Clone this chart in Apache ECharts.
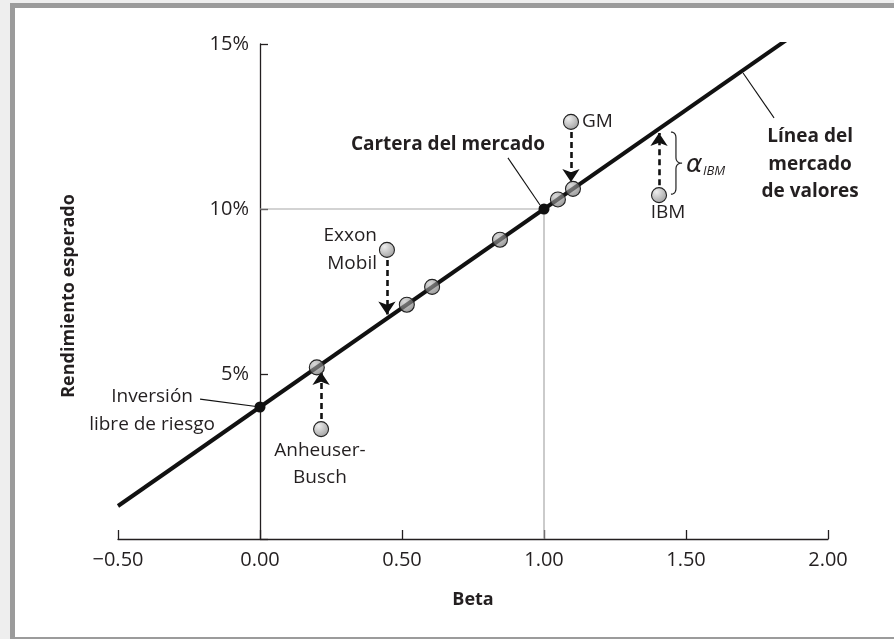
<!DOCTYPE html>
<html><head><meta charset="utf-8">
<script src="https://cdn.jsdelivr.net/npm/echarts@6/dist/echarts.min.js"></script>
<style>
html,body{margin:0;padding:0;background:#eeeeee;width:894px;height:639px;overflow:hidden;}
#frame{position:absolute;left:10px;top:3px;width:884px;height:636px;box-sizing:border-box;background:#fff;border-left:5px solid #9b9b9b;border-top:5px solid #9b9b9b;border-bottom:2px solid #9b9b9b;}
#chart{position:absolute;left:0;top:0;width:894px;height:639px;}
</style></head>
<body><div id="frame"></div><div id="chart"></div>
<script>
// ---- data ----
const xTickValues = [-0.5, 0, 0.5, 1.0, 1.5, 2.0];
const xTickLabels = ['\u22120.50', '0.00', '0.50', '1.00', '1.50', '2.00'];
const yTickValues = [5, 10, 15];
const yTickLabels = ['5%', '10%', '15%'];
const smlBeta = [-0.5, 1.88];
const smlReturn = [1.0, 15.28];
const onLineBeta = [0.2, 0.517, 0.606, 0.845, 1.049, 1.102];
const onLineReturn = [5.2, 7.1, 7.64, 9.07, 10.29, 10.61];
const stockNames = ['Anheuser-Busch', 'Exxon Mobil', 'GM', 'IBM'];
const stockBeta = [0.215, 0.447, 1.095, 1.405];
const stockReturn = [3.33, 8.76, 12.64, 10.42];
const stockSmlReturn = [5.06, 6.80, 10.82, 12.30];
const keyNames = ['Inversión libre de riesgo', 'Cartera del mercado'];
const keyBeta = [0, 1];
const keyReturn = [4, 10];
const refBeta = [0, 1, 1];
const refReturn = [10, 10, 0];

// ---- layout of annotations (data coordinates) ----
const FONT = '"Open Sans", "Noto Sans", sans-serif';
const annotations = [
  { t: 'Cartera del mercado', at: [1.004, 11.94], align: 'right', bold: true },
  { t: 'Exxon', at: [0.412, 9.18], align: 'right' },
  { t: 'Mobil', at: [0.412, 8.36], align: 'right' },
  { t: 'GM', at: [1.134, 12.64], align: 'left' },
  { t: 'IBM', at: [1.437, 9.88], align: 'center' },
  { t: 'Línea del', at: [1.937, 12.18], align: 'center', bold: true },
  { t: 'mercado', at: [1.937, 11.36], align: 'center', bold: true },
  { t: 'de valores', at: [1.937, 10.52], align: 'center', bold: true },
  { t: 'Inversión', at: [-0.38, 4.33], align: 'center' },
  { t: 'libre de riesgo', at: [-0.38, 3.48], align: 'center' },
  { t: 'Anheuser-', at: [0.211, 2.67], align: 'center' },
  { t: 'Busch', at: [0.211, 1.85], align: 'center' }
];
const leaders = [
  [[0.873, 11.55], [0.986, 10.12]],
  [[1.701, 14.12], [1.810, 12.76]],
  [[-0.211, 4.24], [0, 4]]
];

const GRID = { left: 118, right: 66, top: 44, bottom: 100 };
const W = 894, H = 639;
const X_MIN = -0.5, X_MAX = 2.0;
// y axis crosses the x axis at beta = 0
const yAxisOffset = -((0 - X_MIN) / (X_MAX - X_MIN)) * (W - GRID.left - GRID.right);

const chart = echarts.init(document.getElementById('chart'), null, { renderer: 'canvas' });
const ink = '#231f20';

function zip(a, b) { return a.map((v, i) => [v, b[i]]); }

const onGrad = new echarts.graphic.RadialGradient(0.35, 0.3, 0.8, [
  { offset: 0, color: 'rgba(190,190,190,0.6)' }, { offset: 1, color: 'rgba(100,100,100,0.7)' }]);
const offGrad = new echarts.graphic.RadialGradient(0.35, 0.3, 0.8, [
  { offset: 0, color: '#eeeeee' }, { offset: 1, color: '#9a9a9a' }]);

const arrows = stockBeta.map((b, i) => ({ coords: [[b, stockReturn[i]], [b, stockSmlReturn[i]]] }));

chart.setOption({
  animation: false,
  backgroundColor: 'transparent',
  grid: Object.assign({ containLabel: false }, GRID),
  xAxis: {
    type: 'value', min: X_MIN, max: X_MAX, interval: 0.5,
    name: 'Beta', nameLocation: 'middle', nameGap: 52,
    nameTextStyle: { fontFamily: FONT, fontWeight: 'bold', fontSize: 18, color: ink },
    axisLine: { show: true, onZero: false, lineStyle: { color: ink, width: 1.3 } },
    axisTick: { show: true, inside: true, length: 9, lineStyle: { color: ink, width: 1.3 } },
    axisLabel: {
      margin: 11, fontFamily: FONT, fontSize: 20, color: ink,
      formatter: v => { const i = xTickValues.findIndex(t => Math.abs(t - v) < 1e-9); return i >= 0 ? xTickLabels[i] : ''; }
    },
    splitLine: { show: false }
  },
  yAxis: {
    type: 'value', min: 0, max: 15, interval: 5, position: 'left', offset: yAxisOffset,
    axisLine: { show: true, onZero: false, lineStyle: { color: ink, width: 1.3 } },
    axisTick: { show: true, inside: true, length: 8, lineStyle: { color: ink, width: 1.3 } },
    axisLabel: {
      margin: 11, fontFamily: FONT, fontSize: 20, color: ink,
      formatter: v => { const i = yTickValues.findIndex(t => Math.abs(t - v) < 1e-9); return i >= 0 ? yTickLabels[i] : ''; }
    },
    splitLine: { show: false }
  },
  series: [
    { type: 'line', data: zip(refBeta, refReturn), symbol: 'none', z: 1,
      lineStyle: { color: '#a8a8a8', width: 1.2 } },
    { type: 'line', data: zip(smlBeta, smlReturn), symbol: 'none', z: 3,
      lineStyle: { color: '#111', width: 4 } },
    { type: 'lines', coordinateSystem: 'cartesian2d', data: leaders.map(c => ({ coords: c })), z: 2,
      symbol: 'none', lineStyle: { color: '#111', width: 1.1, opacity: 1 } },
    { type: 'lines', coordinateSystem: 'cartesian2d', data: arrows, z: 4,
      symbol: ['none', 'arrow'], symbolSize: [10, 13],
      lineStyle: { color: '#111', width: 2.6, type: [6, 4], opacity: 1 } },
    { type: 'scatter', name: 'En la línea', data: zip(onLineBeta, onLineReturn), z: 5,
      symbol: 'circle', symbolSize: 15,
      itemStyle: { color: onGrad, borderColor: '#222', borderWidth: 1.1, opacity: 1 } },
    { type: 'scatter', name: 'Acciones', data: zip(stockBeta, stockReturn), z: 5,
      symbol: 'circle', symbolSize: 15,
      itemStyle: { color: offGrad, borderColor: '#222', borderWidth: 1.1, opacity: 1 } },
    { type: 'scatter', name: 'Clave', data: zip(keyBeta, keyReturn), z: 6,
      symbol: 'circle', symbolSize: 11,
      itemStyle: { color: '#111', opacity: 1 } }
  ]
});

function px(p) { return chart.convertToPixel({ gridIndex: 0 }, p); }

const g = [];
annotations.forEach(a => {
  const p = px(a.at);
  g.push({ type: 'text', x: p[0], y: p[1], z: 10,
    style: { text: a.t, fill: ink, textAlign: a.align, textVerticalAlign: 'middle',
      font: (a.bold ? 'bold ' : '') + '19px ' + FONT } });
});
// y axis name
g.push({ type: 'text', x: 69, y: 296, rotation: Math.PI / 2, z: 10,
  style: { text: 'Rendimiento esperado', fill: ink, textAlign: 'center', textVerticalAlign: 'middle',
    font: 'bold 18px ' + FONT } });
// alpha brace, sampled as a polyline
const bt = px([1.447, 12.33]), bb = px([1.447, 10.45]), bm = px([1.486, 11.39]);
const x0 = bt[0], xm = x0 + 5, xt = bm[0], yt = bt[1], yb = bb[1], ym = bm[1];
function quad(p0, c, p1, n) {
  const out = [];
  for (let i = 0; i <= n; i++) {
    const t = i / n, u = 1 - t;
    out.push([u * u * p0[0] + 2 * u * t * c[0] + t * t * p1[0], u * u * p0[1] + 2 * u * t * c[1] + t * t * p1[1]]);
  }
  return out;
}
const bracePts = [].concat(
  quad([x0, yt], [xm, yt], [xm, yt + 6], 8),
  quad([xm, ym - 6], [xm, ym], [xt, ym], 8),
  quad([xt, ym], [xm, ym], [xm, ym + 6], 8),
  quad([xm, yb - 6], [xm, yb], [x0, yb], 8)
);
g.push({ type: 'polyline', z: 10, shape: { points: bracePts },
  style: { stroke: '#222', lineWidth: 1.2, fill: null } });
const pa = px([1.500, 11.33]);
g.push({ type: 'text', x: pa[0], y: pa[1], z: 10,
  style: { text: 'α', fill: ink, textAlign: 'left', textVerticalAlign: 'middle', font: 'italic 25px "DejaVu Sans", ' + FONT } });
const ps = px([1.560, 11.15]);
g.push({ type: 'text', x: ps[0], y: ps[1], z: 10,
  style: { text: 'IBM', fill: ink, textAlign: 'left', textVerticalAlign: 'middle', font: 'italic 13px ' + FONT } });

chart.setOption({ graphic: g });
</script>
</body></html>
